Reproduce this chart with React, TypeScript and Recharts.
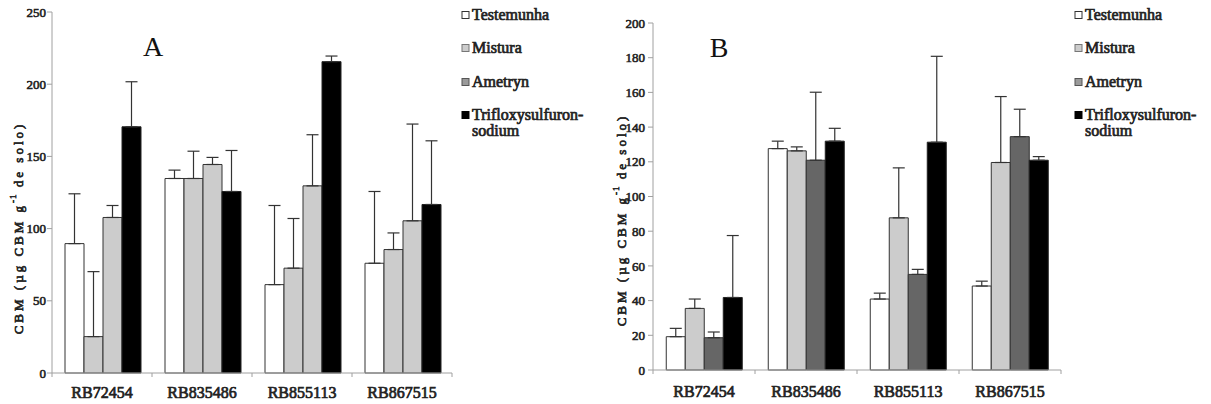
import { BarChart, Bar, XAxis, YAxis, ErrorBar } from "recharts";

const cultivars = ["RB72454", "RB835486", "RB855113", "RB867515"];
const seriesNames = ["Testemunha", "Mistura", "Ametryn", "Trifloxysulfuron-sodium"];

// painel A
const testemunhaA = [89.6, 134.7, 61.2, 76.0];
const misturaA = [25.2, 134.7, 72.6, 85.5];
const ametrynA = [107.7, 144.4, 129.6, 105.4];
const trifloxA = [170.5, 125.7, 215.6, 116.7];
const testemunhaErrA = [34.5, 5.8, 54.8, 49.7];
const misturaErrA = [45.0, 18.9, 34.4, 11.5];
const ametrynErrA = [8.3, 4.9, 35.4, 67.0];
const trifloxErrA = [31.2, 28.4, 3.9, 44.1];
const ticksA = [0, 50, 100, 150, 200, 250];

// painel B
const testemunhaB = [19.2, 127.6, 40.9, 48.4];
const misturaB = [35.5, 126.3, 87.7, 119.6];
const ametrynB = [18.6, 120.9, 55.1, 134.5];
const trifloxB = [41.8, 131.9, 131.3, 120.9];
const testemunhaErrB = [4.8, 4.3, 3.4, 2.8];
const misturaErrB = [5.4, 2.3, 28.8, 38.0];
const ametrynErrB = [3.3, 39.2, 2.9, 15.8];
const trifloxErrB = [35.7, 7.4, 49.5, 2.1];
const ticksB = [0, 20, 40, 60, 80, 100, 120, 140, 160, 180, 200];

// bold serif faked with a thin stroke (the bold face falls back to sans here)
const FONT = "Liberation Serif";
const AXIS = "#a0a0a0";
const TEXT = "#222";

const buildRows = (t: number[], m: number[], a: number[], tr: number[], te: number[], me: number[], ae: number[], tre: number[]) =>
  cultivars.map((name, i) => ({
    name,
    t: t[i], m: m[i], a: a[i], tr: tr[i],
    tErr: [0, te[i]], mErr: [0, me[i]], aErr: [0, ae[i]], trErr: [0, tre[i]],
  }));

const dataA = buildRows(testemunhaA, misturaA, ametrynA, trifloxA, testemunhaErrA, misturaErrA, ametrynErrA, trifloxErrA);
const dataB = buildRows(testemunhaB, misturaB, ametrynB, trifloxB, testemunhaErrB, misturaErrB, ametrynErrB, trifloxErrB);

const CatTick = (props: any) => {
  const { x, y, payload, index, band, base } = props;
  return (
    <g>
      <line x1={x - band / 2} x2={x - band / 2} y1={y} y2={y + 4} stroke={AXIS} />
      {index === cultivars.length - 1 && <line x1={x + band / 2} x2={x + band / 2} y1={y} y2={y + 4} stroke={AXIS} />}
      <text x={x} y={y + base} textAnchor="middle" fontFamily={FONT} fontSize={16} fill={TEXT} stroke={TEXT} strokeWidth={0.7}>
        {payload.value}
      </text>
    </g>
  );
};

const errProps = { width: 6, strokeWidth: 1.2, stroke: "#333", direction: "y" as const, isAnimationActive: false };

const Panel = ({ data, ticks, max, margin, yWidth, band, base, width, ametrynFill, tickMargin }: any) => (
  <BarChart width={width} height={404} data={data} margin={margin} barCategoryGap="13%" barGap={0}>
    <XAxis dataKey="name" height={30} tickLine={false} tickSize={0} tickMargin={0}
      axisLine={{ stroke: AXIS }} interval={0}
      tick={(p: any) => <CatTick {...p} band={band} base={base} />} />
    <YAxis domain={[0, max]} ticks={ticks} interval={0} width={yWidth} tickSize={5} tickMargin={tickMargin}
      axisLine={{ stroke: AXIS }} tickLine={{ stroke: AXIS }}
      tick={{ fill: TEXT, stroke: TEXT, strokeWidth: 0.6, fontSize: 13, fontFamily: FONT }} />
    <Bar dataKey="t" fill="#ffffff" stroke="#333" strokeWidth={1} isAnimationActive={false}>
      <ErrorBar dataKey="tErr" {...errProps} />
    </Bar>
    <Bar dataKey="m" fill="#cccccc" stroke="#333" strokeWidth={1} isAnimationActive={false}>
      <ErrorBar dataKey="mErr" {...errProps} />
    </Bar>
    <Bar dataKey="a" fill={ametrynFill} stroke="#333" strokeWidth={1} isAnimationActive={false}>
      <ErrorBar dataKey="aErr" {...errProps} />
    </Bar>
    <Bar dataKey="tr" fill="#000000" stroke="#222" strokeWidth={1} isAnimationActive={false}>
      <ErrorBar dataKey="trErr" {...errProps} />
    </Bar>
  </BarChart>
);

const legendFills = [
  { fill: "#ffffff", stroke: "#333" },
  { fill: "#cccccc", stroke: "#777" },
  { fill: "#9a9a9a", stroke: "#555" },
  { fill: "#000000", stroke: "#000" },
];
const legendCenters = [15, 48, 82, 115];

const Legend = ({ x }: { x: number }) => (
  <g fontFamily={FONT} fontSize={16} fill={TEXT} stroke={TEXT} strokeWidth={0.7}>
    {seriesNames.map((s, i) => (
      <g key={s}>
        <rect x={x} y={legendCenters[i] - 3.5} width={7} height={7} fill={legendFills[i].fill} stroke={legendFills[i].stroke} strokeWidth={1} />
        {i < 3 ? (
          <text x={x + 10} y={legendCenters[i] + 5}>{s}</text>
        ) : (
          <text x={x + 10} y={legendCenters[i] + 5}>
            <tspan>Trifloxysulfuron-</tspan>
            <tspan x={x + 10} dy={16}>sodium</tspan>
          </text>
        )}
      </g>
    ))}
  </g>
);

const YLabel = ({ cx, cy }: { cx: number; cy: number }) => (
  <text transform={`translate(${cx},${cy}) rotate(-90)`} textAnchor="middle" dominantBaseline="central"
    fontFamily={FONT} fontSize={13} letterSpacing={3} fill={TEXT} stroke={TEXT} strokeWidth={0.7}>
    CBM (µg CBM g<tspan dy={-5} fontSize={9} letterSpacing={1}>-1</tspan><tspan dy={5}> de solo)</tspan>
  </text>
);

export default function App() {
  return (
    <div style={{ position: "absolute", left: 0, top: 0, width: 1211, height: 404, background: "#fff", overflow: "hidden" }}>
      <div style={{ position: "absolute", left: 0, top: 0 }}>
        <Panel data={dataA} ticks={ticksA} max={250} width={600} yWidth={52} band={100} base={25} tickMargin={1}
          margin={{ top: 12, right: 148, bottom: 1, left: 0 }} ametrynFill="#cccccc" />
      </div>
      <div style={{ position: "absolute", left: 600, top: 0 }}>
        <Panel data={dataB} ticks={ticksB} max={200} width={611} yWidth={53} band={102} base={27} tickMargin={3}
          margin={{ top: 23, right: 150, bottom: 4, left: 0 }} ametrynFill="#666666" />
      </div>
      <svg width={1211} height={404} style={{ position: "absolute", left: 0, top: 0, pointerEvents: "none" }}>
        <text x={153} y={56} textAnchor="middle" fontFamily={FONT} fontSize={28} fill="#111">A</text>
        <text x={719} y={57} textAnchor="middle" fontFamily={FONT} fontSize={28} fill="#111">B</text>
        <YLabel cx={18} cy={228} />
        <YLabel cx={621} cy={220} />
        <Legend x={462} />
        <Legend x={1075} />
      </svg>
    </div>
  );
}
